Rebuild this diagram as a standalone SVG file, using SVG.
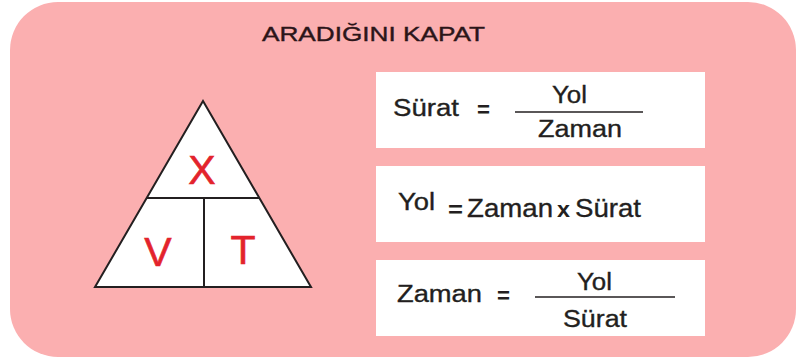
<svg xmlns="http://www.w3.org/2000/svg" width="797" height="360" viewBox="0 0 797 360">
<style>
.bg{fill:#fbafb0}
.box{fill:#ffffff}
.t{font-family:"Liberation Sans",Arial,sans-serif;fill:#231f20;font-size:23px;stroke:#231f20;stroke-width:0.35}
.big{font-size:26px}
.eq{font-family:"Liberation Sans",Arial,sans-serif;fill:#231f20;font-size:22px;font-weight:bold}
.title{font-family:"Liberation Sans",Arial,sans-serif;fill:#2b1519;font-size:21px;stroke:#2b1519;stroke-width:0.4}
.r{font-family:"Liberation Sans",Arial,sans-serif;fill:#e3232c;font-size:41px;text-anchor:middle;stroke:#e3232c;stroke-width:0.6}
.ln{stroke:#231f20;stroke-width:1.5;fill:none}
.tri{stroke:#231f20;stroke-width:2;fill:#ffffff;stroke-linejoin:miter}
</style>
<rect class="bg" x="10" y="2" width="786" height="355" rx="48" ry="48"/>
<text class="title" x="262" y="41" textLength="223" lengthAdjust="spacingAndGlyphs">ARADIĞINI KAPAT</text>
<g id="triangle">
<polygon class="tri" points="203,101 95,287 311,287"/>
<line class="ln" x1="146" y1="198" x2="260" y2="198" style="stroke-width:2"/>
<line class="ln" x1="204" y1="198" x2="204" y2="287" style="stroke-width:2"/>
<text class="r" x="202" y="184">X</text>
<text class="r" x="158" y="266">V</text>
<text class="r" x="243" y="264">T</text>
</g>
<g id="box1">
<rect class="box" x="376" y="72" width="329" height="76"/>
<text class="t" x="393" y="116" textLength="66" lengthAdjust="spacingAndGlyphs">Sürat</text>
<text class="eq" x="477" y="117" textLength="13" lengthAdjust="spacingAndGlyphs">=</text>
<line class="ln" x1="515" y1="112" x2="643" y2="112"/>
<text class="t" x="552" y="103" textLength="35" lengthAdjust="spacingAndGlyphs">Yol</text>
<text class="t" x="538" y="137" textLength="84" lengthAdjust="spacingAndGlyphs">Zaman</text>
</g>
<g id="box2">
<rect class="box" x="376" y="166" width="329" height="76"/>
<text class="t" x="398" y="210" textLength="37" lengthAdjust="spacingAndGlyphs">Yol</text>
<text class="eq" x="448" y="217" textLength="15" lengthAdjust="spacingAndGlyphs">=</text>
<text class="t big" x="467" y="217" textLength="86" lengthAdjust="spacingAndGlyphs">Zaman</text>
<text class="eq" x="557" y="217" textLength="13" lengthAdjust="spacingAndGlyphs">x</text>
<text class="t big" x="575" y="217" textLength="66" lengthAdjust="spacingAndGlyphs">Sürat</text>
</g>
<g id="box3">
<rect class="box" x="376" y="260" width="329" height="76"/>
<text class="t" x="397" y="302" textLength="85" lengthAdjust="spacingAndGlyphs">Zaman</text>
<text class="eq" x="497" y="303" textLength="13" lengthAdjust="spacingAndGlyphs">=</text>
<line class="ln" x1="535" y1="297" x2="675" y2="297"/>
<text class="t" x="577" y="290" textLength="35" lengthAdjust="spacingAndGlyphs">Yol</text>
<text class="t" x="563" y="327" textLength="64" lengthAdjust="spacingAndGlyphs">Sürat</text>
</g>
</svg>
